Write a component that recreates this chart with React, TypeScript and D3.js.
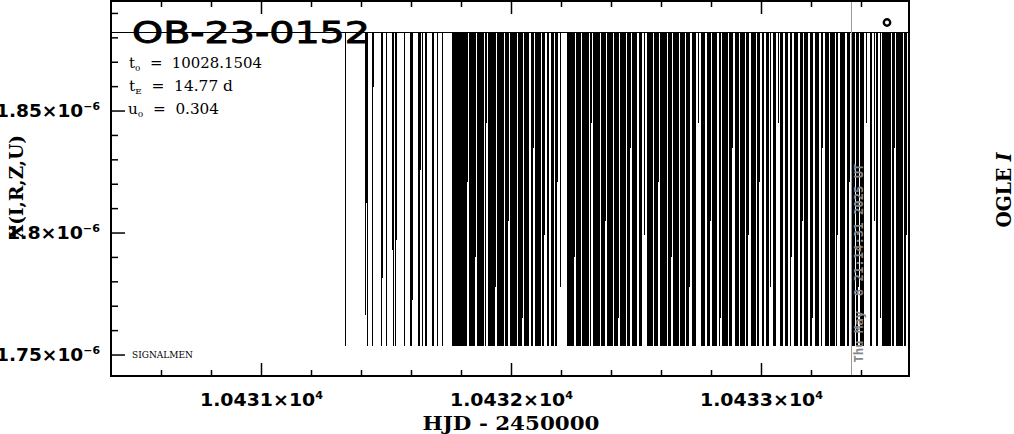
import React from "react";
import * as d3 from "d3";

// ---------- data (HJD - 2450000, flux in units of 1e-6) ----------
const xDomain: [number, number] = [10430.396, 10433.596];
const yDomain: [number, number] = [1.7414, 1.8951];
const baselineFlux = 1.8822; // upper level of the light-curve trace
const floorFlux = 1.7537; // lower level reached by most points

const floorHjd = [
  10431.336, 10431.424, 10431.444, 10431.480, 10431.500, 10431.528, 10431.536, 10431.572, 10431.596, 10431.600,
  10431.628, 10431.632, 10431.644, 10431.656, 10431.660, 10431.684, 10431.688, 10431.704, 10431.724,
  10431.764, 10431.768, 10431.772, 10431.776, 10431.780, 10431.784, 10431.788, 10431.792, 10431.796, 10431.800,
  10431.804, 10431.808, 10431.812, 10431.816, 10431.820, 10431.832, 10431.836, 10431.840, 10431.844, 10431.848,
  10431.852, 10431.864, 10431.868, 10431.872, 10431.876, 10431.880, 10431.884, 10431.888, 10431.896, 10431.908,
  10431.912, 10431.916, 10431.920, 10431.924, 10431.928, 10431.932, 10431.944, 10431.948, 10431.952, 10431.956,
  10431.960, 10431.964, 10431.968, 10431.976, 10431.980, 10431.984, 10431.996,
  10432.000, 10432.004, 10432.008, 10432.012, 10432.016, 10432.020, 10432.028, 10432.032, 10432.036, 10432.040,
  10432.052, 10432.056, 10432.060, 10432.064, 10432.068, 10432.080, 10432.084, 10432.096, 10432.100, 10432.104,
  10432.108, 10432.112, 10432.116, 10432.124, 10432.128, 10432.144, 10432.148, 10432.160, 10432.164, 10432.168,
  10432.176, 10432.180, 10432.224, 10432.228, 10432.232, 10432.236, 10432.240, 10432.244, 10432.248, 10432.260,
  10432.264, 10432.268, 10432.272, 10432.276, 10432.284, 10432.288, 10432.292, 10432.296, 10432.300, 10432.304,
  10432.308, 10432.316, 10432.328, 10432.332, 10432.336, 10432.340, 10432.344, 10432.348, 10432.352, 10432.360,
  10432.364, 10432.368, 10432.372, 10432.384, 10432.388, 10432.392, 10432.396, 10432.400, 10432.404, 10432.412,
  10432.416, 10432.420, 10432.424, 10432.436, 10432.440, 10432.444, 10432.448, 10432.452, 10432.456, 10432.464,
  10432.468, 10432.472, 10432.484, 10432.488, 10432.492, 10432.496, 10432.500, 10432.512, 10432.516, 10432.520,
  10432.544, 10432.548, 10432.552, 10432.556, 10432.560, 10432.564, 10432.572, 10432.576, 10432.580, 10432.584,
  10432.596, 10432.600, 10432.604, 10432.608, 10432.612, 10432.616, 10432.620, 10432.628, 10432.632, 10432.636,
  10432.648, 10432.652, 10432.656, 10432.660, 10432.664, 10432.668, 10432.676, 10432.680, 10432.684, 10432.688,
  10432.692, 10432.700, 10432.704, 10432.708, 10432.724, 10432.728, 10432.732, 10432.736, 10432.760, 10432.764,
  10432.768, 10432.772, 10432.784, 10432.788, 10432.792, 10432.804, 10432.808, 10432.812, 10432.816, 10432.820,
  10432.832, 10432.844, 10432.848, 10432.852, 10432.856, 10432.860, 10432.864, 10432.872, 10432.876, 10432.880,
  10432.896, 10432.900, 10432.904, 10432.908, 10432.916, 10432.920, 10432.924, 10432.928, 10432.932, 10432.940,
  10432.944, 10432.960, 10432.964, 10432.968, 10432.972, 10432.976, 10432.984, 10432.988,
  10433.004, 10433.008, 10433.020, 10433.024, 10433.028, 10433.048, 10433.052, 10433.056, 10433.076, 10433.080,
  10433.084, 10433.096, 10433.100, 10433.104, 10433.116, 10433.132, 10433.136, 10433.140, 10433.144, 10433.156,
  10433.160, 10433.172, 10433.176, 10433.180, 10433.184, 10433.196, 10433.200, 10433.216, 10433.220, 10433.224,
  10433.228, 10433.240, 10433.256, 10433.260, 10433.264, 10433.268, 10433.276, 10433.280, 10433.284, 10433.288,
  10433.292, 10433.300, 10433.316, 10433.320, 10433.324, 10433.328, 10433.332, 10433.344, 10433.348, 10433.360,
  10433.364, 10433.368, 10433.372, 10433.380, 10433.384, 10433.396, 10433.400, 10433.404, 10433.408, 10433.436,
  10433.440, 10433.460, 10433.464, 10433.484, 10433.488, 10433.492, 10433.496, 10433.500, 10433.504, 10433.508,
  10433.512, 10433.516, 10433.524, 10433.528, 10433.540, 10433.544, 10433.548, 10433.552, 10433.556, 10433.560,
  10433.564, 10433.572, 10433.576, 10433.588,
];

const partialHjd = [
  10431.416, 10431.420, 10431.448, 10431.484, 10431.524, 10431.540, 10431.604, 10431.636,
  10431.824, 10431.856, 10431.900, 10431.936, 10431.988, 10432.044, 10432.088, 10432.132, 10432.184, 10432.196,
  10432.252, 10432.320, 10432.376, 10432.428, 10432.476, 10432.532, 10432.588, 10432.640, 10432.712, 10432.748,
  10432.796, 10432.836, 10432.884, 10432.948, 10432.992, 10433.036, 10433.068, 10433.120, 10433.164, 10433.204,
  10433.244, 10433.304, 10433.352, 10433.388, 10433.420, 10433.452, 10433.476, 10433.532, 10433.580,
];
const partialFlux = [
  1.7664, 1.8123, 1.8598, 1.7816, 1.7930, 1.7971, 1.7725, 1.8258,
  1.8210, 1.7900, 1.8450, 1.7780, 1.8050, 1.7650, 1.8350, 1.7990, 1.8210, 1.7780,
  1.7900, 1.8450, 1.8050, 1.7650, 1.8350, 1.7990, 1.8210, 1.7900, 1.7780, 1.8450,
  1.8050, 1.7650, 1.8350, 1.7990, 1.8210, 1.7780, 1.8450, 1.7900, 1.8050, 1.7650,
  1.8350, 1.7990, 1.8210, 1.7780, 1.8450, 1.8050, 1.7650, 1.8350, 1.7990,
];

// ---------- axis ticks and labels ----------
const xMajorTicks = [10431, 10432, 10433];
const xTickMantissa = ["1.0431", "1.0432", "1.0433"];
const xTickExponent = "4";
const yMajorTicks = [1.75, 1.8, 1.85];
const yTickMantissa = ["1.75", "1.8", "1.85"];
const yTickExponent = "\u22126";

const title = "OB-23-0152";
const t0Text = "10028.1504";
const tEText = "14.77 d";
const u0Text = "0.304";
const xTitle = "HJD - 2450000";
const yTitle = "X(I,R,Z,U)";
const surveyLabel = "OGLE ";
const surveyBand = "I";
const stamp = "Thu May  8 21:14:31 2025 UT";
const footLabel = "SIGNALMEN";
const currentHjd = 10433.359;

const L = 110, R = 910, T = 1, B = 376;

export default function App() {
  const x = d3.scaleLinear().domain(xDomain).range([L + 0.5, R + 0.5]);
  const y = d3.scaleLinear().domain(yDomain).range([B, T]);

  const pts: [number, number][] = [
    ...floorHjd.map((t) => [t, floorFlux] as [number, number]),
    ...partialHjd.map((t, i) => [t, partialFlux[i]] as [number, number]),
  ].sort((a, b) => a[0] - b[0]);

  const trace: [number, number][] = [[xDomain[0], baselineFlux]];
  for (const [t, v] of pts) {
    trace.push([t, baselineFlux], [t, v], [t, baselineFlux]);
  }
  trace.push([xDomain[1], baselineFlux]);
  const line = d3
    .line<[number, number]>()
    .x((d) => x(d[0]))
    .y((d) => y(d[1]));

  const xMinor = d3.range(10430.6, 10433.5, 0.2).filter((v) => !xMajorTicks.some((m) => Math.abs(m - v) < 1e-6));
  const yMinor = d3.range(1.75, 1.895, 0.01).filter((v) => !yMajorTicks.some((m) => Math.abs(m - v) < 1e-6));

  const sans = "DejaVu Sans, sans-serif";
  const serif = "DejaVu Serif, serif";

  return (
    <div style={{ position: "absolute", left: 0, top: 0 }}>
      <svg width={1014} height={434} style={{ display: "block", background: "#fff" }}>
        <defs>
          <clipPath id="plotclip">
            <rect x={L} y={T} width={R - L} height={B - T} />
          </clipPath>
        </defs>

        {/* light-curve trace */}
        <path
          d={line(trace) || ""}
          fill="none"
          stroke="#000"
          strokeWidth={1}
          shapeRendering="crispEdges"
          clipPath="url(#plotclip)"
        />

        {/* current-time marker */}
        <line x1={x(currentHjd)} x2={x(currentHjd)} y1={T} y2={B} stroke="#9a9a9a" strokeWidth={1} shapeRendering="crispEdges" />
        <text
          transform={`translate(${x(currentHjd) + 12},${263}) rotate(-90)`}
          textAnchor="middle"
          fontFamily="DejaVu Sans Mono, monospace"
          fontWeight="bold"
          fontSize={12}
          fill="#888"
          textLength={199}
          lengthAdjust="spacingAndGlyphs"
          style={{ whiteSpace: "pre" }}
        >
          {stamp}
        </text>

        {/* frame */}
        <rect x={L + 1} y={T} width={R - L - 2} height={B - T} fill="none" stroke="#000" strokeWidth={2} />

        {/* bottom + top ticks */}
        {xMajorTicks.map((t) => (
          <g key={"xm" + t}>
            <line x1={x(t)} x2={x(t)} y1={B} y2={B - 13} stroke="#000" strokeWidth={1.5} />
            <line x1={x(t)} x2={x(t)} y1={T} y2={T + 13} stroke="#000" strokeWidth={1.5} />
          </g>
        ))}
        {xMinor.map((t) => (
          <g key={"xn" + t}>
            <line x1={x(t)} x2={x(t)} y1={B} y2={B - 6} stroke="#000" strokeWidth={1.5} />
            <line x1={x(t)} x2={x(t)} y1={T} y2={T + 6} stroke="#000" strokeWidth={1.5} />
          </g>
        ))}
        {/* left ticks */}
        {yMajorTicks.map((v) => (
          <line key={"ym" + v} x1={L} x2={L + 15} y1={y(v)} y2={y(v)} stroke="#000" strokeWidth={1.5} />
        ))}
        {yMinor.map((v) => (
          <line key={"yn" + v} x1={L} x2={L + 8} y1={y(v)} y2={y(v)} stroke="#000" strokeWidth={1.5} />
        ))}

        {/* x tick labels */}
        {xMajorTicks.map((t, i) => (
          <text
            key={"xl" + t}
            x={x(t)}
            y={406}
            textAnchor="middle"
            fontFamily={sans}
            fontSize={17}
            fontWeight="bold"
            textLength={123}
            lengthAdjust="spacingAndGlyphs"
          >
            {xTickMantissa[i]}×10
            <tspan fontSize={10} dy={-7}>{xTickExponent}</tspan>
          </text>
        ))}
        {/* y tick labels */}
        {yMajorTicks.map((v, i) => (
          <text
            key={"yl" + v}
            x={100}
            y={y(v) + 6}
            textAnchor="end"
            fontFamily={sans}
            fontSize={17}
            fontWeight="bold"
            textLength={yTickMantissa[i].length > 3 ? 104 : 93}
            lengthAdjust="spacingAndGlyphs"
          >
            {yTickMantissa[i]}×10
            <tspan fontSize={10} dy={-7}>{yTickExponent}</tspan>
          </text>
        ))}

        {/* axis titles */}
        <text x={511} y={430} textAnchor="middle" fontFamily={serif} fontSize={19} fontWeight="bold" textLength={177} lengthAdjust="spacingAndGlyphs" style={{ whiteSpace: "pre" }}>
          {xTitle}
        </text>
        <text transform="translate(23,187) rotate(-90)" textAnchor="middle" fontFamily={serif} fontSize={19} fontWeight="bold" textLength={104} lengthAdjust="spacingAndGlyphs">
          {yTitle}
        </text>

        {/* event title and parameters */}
        <text x={132} y={43} fontFamily={sans} fontSize={31} stroke="#000" strokeWidth={0.9} textLength={238} lengthAdjust="spacingAndGlyphs">
          {title}
        </text>
        <text x={129} y={68} fontFamily={serif} fontSize={14} textLength={133} lengthAdjust="spacingAndGlyphs" style={{ whiteSpace: "pre" }}>
          t<tspan fontSize={8} dy={3}>0</tspan>
          <tspan dy={-3}>{"  =  " + t0Text}</tspan>
        </text>
        <text x={129} y={91} fontFamily={serif} fontSize={14} textLength={104} lengthAdjust="spacingAndGlyphs" style={{ whiteSpace: "pre" }}>
          t<tspan fontSize={8} dy={3}>E</tspan>
          <tspan dy={-3}>{"  =  " + tEText}</tspan>
        </text>
        <text x={128} y={114} fontFamily={serif} fontSize={14} textLength={91} lengthAdjust="spacingAndGlyphs" style={{ whiteSpace: "pre" }}>
          u<tspan fontSize={8} dy={3}>0</tspan>
          <tspan dy={-3}>{"  =  " + u0Text}</tspan>
        </text>

        <text x={132} y={358} fontFamily={serif} fontSize={9} textLength={61} lengthAdjust="spacingAndGlyphs">
          {footLabel}
        </text>

        {/* legend symbol */}
        <circle cx={887} cy={22.5} r={3.2} fill="none" stroke="#000" strokeWidth={2.4} />

        {/* survey label */}
        <text transform="translate(1011,190) rotate(-90)" textAnchor="middle" fontFamily={serif} fontSize={20} fontWeight="bold" textLength={75} lengthAdjust="spacingAndGlyphs" style={{ whiteSpace: "pre" }}>
          {surveyLabel}
          <tspan fontStyle="italic">{surveyBand}</tspan>
        </text>
      </svg>
    </div>
  );
}
